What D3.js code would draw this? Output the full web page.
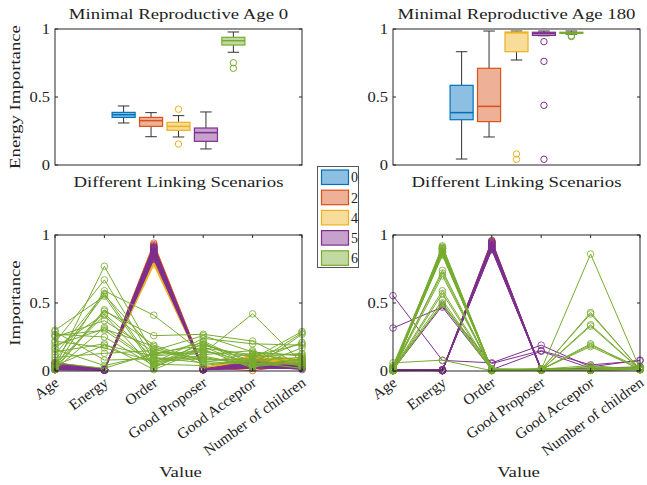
<!DOCTYPE html>
<html><head><meta charset="utf-8">
<script src="https://cdn.jsdelivr.net/npm/d3@7/dist/d3.min.js"></script>
<style>
html,body{margin:0;padding:0;background:#fff;}
text{font-family:"Liberation Serif","Times New Roman",serif;fill:#222;}
</style></head>
<body>
<svg id="c" width="647" height="485"></svg>
<script>
// ---------------- data ----------------
const groups = ["0", "2", "4", "5", "6"];
const colors = ["#0072BD", "#D95319", "#EDB120", "#7E2F8E", "#77AC30"];
const features = ["Age", "Energy", "Order", "Good Proposer", "Good Acceptor", "Number of children"];
const yTicks = [0, 0.5, 1];
const yTickLabels = ["0", "0.5", "1"];
const titles = ["Minimal Reproductive Age 0", "Minimal Reproductive Age 180"];

// box plot summaries (per group) — Minimal Reproductive Age 0
const a0_lo  = [0.309, 0.208, 0.206, 0.118, 0.829];
const a0_q1  = [0.350, 0.284, 0.255, 0.174, 0.882];
const a0_med = [0.370, 0.326, 0.284, 0.238, 0.914];
const a0_q3  = [0.387, 0.350, 0.314, 0.272, 0.939];
const a0_hi  = [0.434, 0.385, 0.363, 0.390, 0.978];
const a0_out = [[], [], [0.410, 0.154], [], [0.752, 0.711]];
// Minimal Reproductive Age 180
const a180_lo  = [0.044, 0.206, 0.772, 0.950, 0.962];
const a180_q1  = [0.333, 0.319, 0.833, 0.953, 0.968];
const a180_med = [0.385, 0.431, 0.972, 0.968, 0.972];
const a180_q3  = [0.586, 0.711, 0.978, 0.976, 0.976];
const a180_hi  = [0.833, 0.985, 0.985, 0.985, 0.985];
const a180_out = [[], [], [0.081, 0.042], [0.907, 0.762, 0.439, 0.042], [0.950, 0.944]];

// parallel coordinates, rows = [Age, Energy, Order, Good Proposer, Good Acceptor, Number of children]
const L_g0 = [
 [0.03,0.010,0.86,0.015,0.05,0.04],[0.05,0.008,0.88,0.020,0.07,0.05],[0.02,0.012,0.85,0.010,0.04,0.03],
 [0.04,0.006,0.87,0.025,0.06,0.06],[0.06,0.010,0.89,0.012,0.08,0.04],[0.03,0.014,0.84,0.018,0.03,0.07],
 [0.02,0.007,0.90,0.022,0.05,0.05],[0.05,0.011,0.86,0.014,0.06,0.03]];
const L_g2 = [
 [0.04,0.010,0.93,0.020,0.10,0.06],[0.02,0.008,0.91,0.015,0.11,0.04],[0.05,0.012,0.90,0.010,0.09,0.07],
 [0.03,0.006,0.92,0.025,0.003,0.05],[0.06,0.010,0.88,0.018,0.08,0.08],[0.01,0.013,0.89,0.012,0.07,0.03],
 [0.04,0.009,0.94,0.022,0.10,0.06],[0.03,0.011,0.87,0.016,0.09,0.05]];
const L_g4 = [
 [0.03,0.010,0.78,0.020,0.10,0.07],[0.05,0.008,0.80,0.015,0.09,0.08],[0.02,0.012,0.79,0.010,0.11,0.06],
 [0.04,0.006,0.82,0.025,0.08,0.09],[0.06,0.010,0.81,0.018,0.10,0.05],[0.02,0.013,0.83,0.012,0.07,0.07],
 [0.05,0.009,0.85,0.022,0.09,0.06],[0.03,0.011,0.80,0.016,0.12,0.08]];
const L_g5 = [
 [0.02,0.008,0.92,0.010,0.04,0.03],[0.03,0.010,0.91,0.012,0.05,0.02],[0.01,0.006,0.90,0.008,0.03,0.04],
 [0.04,0.012,0.89,0.015,0.06,0.03],[0.02,0.009,0.88,0.010,0.02,0.02],[0.05,0.011,0.87,0.013,0.05,0.05],
 [0.03,0.007,0.86,0.009,0.04,0.01],[0.01,0.010,0.85,0.011,0.03,0.03],[0.06,0.013,0.84,0.014,0.07,0.04],
 [0.02,0.008,0.83,0.010,0.02,0.02],[0.03,0.009,0.82,0.012,0.05,0.03],[0.04,0.011,0.90,0.016,0.04,0.05],
 [0.01,0.006,0.88,0.008,0.03,0.02],[0.02,0.010,0.86,0.011,0.06,0.04],[0.05,0.012,0.91,0.013,0.04,0.03],
 [0.03,0.008,0.87,0.010,0.03,0.02]];
const L_g6 = [
 [0.03,0.77,0.12,0.15,0.06,0.05],[0.21,0.67,0.08,0.10,0.04,0.09],[0.02,0.59,0.41,0.13,0.42,0.06],
 [0.12,0.57,0.05,0.20,0.07,0.21],[0.30,0.55,0.03,0.17,0.12,0.08],[0.08,0.56,0.16,0.08,0.09,0.29],
 [0.01,0.44,0.26,0.27,0.22,0.04],[0.17,0.42,0.10,0.06,0.13,0.12],[0.05,0.41,0.02,0.22,0.05,0.28],
 [0.25,0.37,0.14,0.12,0.15,0.03],[0.01,0.32,0.06,0.24,0.20,0.19],[0.19,0.31,0.18,0.05,0.08,0.10],
 [0.27,0.25,0.04,0.18,0.03,0.07],[0.04,0.19,0.11,0.14,0.11,0.20],[0.22,0.17,0.07,0.09,0.06,0.02],
 [0.10,0.13,0.15,0.26,0.14,0.11],[0.29,0.08,0.09,0.11,0.04,0.06],[0.06,0.02,0.13,0.19,0.10,0.13],
 [0.14,0.20,0.01,0.16,0.02,0.27],[0.26,0.30,0.05,0.04,0.08,0.04],[0.02,0.45,0.19,0.07,0.05,0.08],
 [0.16,0.04,0.12,0.21,0.03,0.17]];

const R_g0 = [
 [0.005,0.005,0.92,0.008,0.008,0.012],[0.008,0.004,0.90,0.010,0.006,0.015],[0.003,0.006,0.94,0.007,0.010,0.010],
 [0.006,0.005,0.91,0.009,0.007,0.014]];
const R_g2 = [
 [0.004,0.004,0.96,0.008,0.006,0.012],[0.007,0.006,0.93,0.010,0.009,0.016],[0.005,0.003,0.95,0.006,0.008,0.011],
 [0.009,0.005,0.92,0.009,0.007,0.013]];
const R_g4 = [
 [0.006,0.005,0.95,0.007,0.009,0.014],[0.004,0.004,0.93,0.010,0.006,0.012],[0.008,0.006,0.94,0.008,0.008,0.016],
 [0.005,0.003,0.91,0.009,0.010,0.011]];
const R_g5 = [
 [0.002,0.003,0.95,0.008,0.010,0.015],[0.006,0.005,0.94,0.010,0.006,0.020],[0.010,0.004,0.93,0.012,0.015,0.012],
 [0.004,0.007,0.92,0.006,0.008,0.025],[0.008,0.002,0.91,0.014,0.012,0.018],[0.003,0.006,0.90,0.009,0.020,0.010],
 [0.012,0.004,0.89,0.011,0.007,0.022],[0.005,0.008,0.955,0.007,0.011,0.028],[0.007,0.003,0.935,0.013,0.009,0.016],
 [0.002,0.005,0.925,0.010,0.014,0.013],[0.009,0.006,0.915,0.008,0.005,0.021],[0.004,0.002,0.945,0.015,0.013,0.030],
 [0.006,0.009,0.905,0.012,0.018,0.014],[0.011,0.004,0.895,0.006,0.010,0.019],
 [0.554,0.078,0.060,0.190,0.030,0.080],[0.316,0.470,0.010,0.145,0.020,0.030],[0.010,0.480,0.055,0.150,0.045,0.075]];
const R_g6 = [
 [0.005,0.92,0.010,0.010,0.86,0.015],[0.010,0.91,0.005,0.008,0.43,0.010],[0.002,0.90,0.015,0.012,0.010,0.020],
 [0.015,0.90,0.008,0.006,0.34,0.012],[0.008,0.89,0.012,0.015,0.008,0.025],[0.003,0.88,0.006,0.010,0.20,0.008],
 [0.020,0.88,0.010,0.009,0.012,0.018],[0.006,0.87,0.004,0.011,0.18,0.015],[0.012,0.86,0.014,0.007,0.006,0.022],
 [0.004,0.86,0.009,0.013,0.04,0.010],[0.025,0.85,0.007,0.010,0.010,0.030],[0.009,0.89,0.011,0.008,0.015,0.012],
 [0.001,0.91,0.003,0.014,0.007,0.020],[0.030,0.87,0.013,0.009,0.011,0.016],[0.007,0.74,0.008,0.012,0.42,0.014],
 [0.018,0.72,0.010,0.010,0.009,0.020],[0.004,0.70,0.006,0.008,0.33,0.010],[0.011,0.59,0.012,0.011,0.19,0.025],
 [0.002,0.57,0.005,0.015,0.012,0.018],[0.014,0.52,0.009,0.007,0.03,0.012],[0.006,0.50,0.011,0.012,0.008,0.022],
 [0.020,0.49,0.004,0.010,0.010,0.015],[0.060,0.08,0.002,0.010,0.010,0.010],[0.040,0.90,0.010,0.012,0.005,0.020]];

// ---------------- drawing ----------------
const svg = d3.select("#c");
svg.append("rect").attr("width", 647).attr("height", 485).attr("fill", "#fff");
const STRETCH = 1.25;
const AX = "#262626";
function stretch(sel, f) {
  sel.each(function () {
    const w = this.getComputedTextLength();
    this.setAttribute("textLength", w * f);
    this.setAttribute("lengthAdjust", "spacingAndGlyphs");
  });
}

const panels = {
  tl: {x0: 55, x1: 302, y0: 29, y1: 165},
  tr: {x0: 393, x1: 640, y0: 29, y1: 165},
  bl: {x0: 55, x1: 302, y0: 235, y1: 371},
  br: {x0: 393, x1: 640, y0: 235, y1: 371}
};

function frame(p, xTickPos) {
  const y = d3.scaleLinear().domain([0, 1]).range([p.y1, p.y0]);
  const g = svg.append("g");
  yTicks.forEach((t, i) => {
    g.append("line").attr("x1", p.x0).attr("x2", p.x0 + 3).attr("y1", y(t)).attr("y2", y(t)).attr("stroke", AX);
    g.append("line").attr("x1", p.x1).attr("x2", p.x1 - 3).attr("y1", y(t)).attr("y2", y(t)).attr("stroke", AX);
    const tl = g.append("text").attr("x", p.x0 - 5).attr("y", y(t)).attr("dy", "0.35em")
      .attr("text-anchor", "end").attr("font-size", 15).text(yTickLabels[i]);
    stretch(tl, 1.1);
  });
  (xTickPos || []).forEach(xp => {
    g.append("line").attr("x1", xp).attr("x2", xp).attr("y1", p.y1).attr("y2", p.y1 - 3).attr("stroke", AX);
    g.append("line").attr("x1", xp).attr("x2", xp).attr("y1", p.y0).attr("y2", p.y0 + 3).attr("stroke", AX);
  });
  g.append("rect").attr("x", p.x0).attr("y", p.y0).attr("width", p.x1 - p.x0).attr("height", p.y1 - p.y0)
    .attr("fill", "none").attr("stroke", AX).attr("stroke-width", 1);
  return y;
}

function boxPanel(p, lo, q1, med, q3, hi, out, title) {
  const x = d3.scalePoint().domain(groups).range([p.x0, p.x1]).padding(2.5);
  const y = d3.scaleLinear().domain([0, 1]).range([p.y1, p.y0]);
  const bw = x.step() * 0.84, cw = bw * 0.5;
  const g = svg.append("g");
  groups.forEach((k, i) => {
    const cx = x(k), c = colors[i];
    g.append("line").attr("x1", cx).attr("x2", cx).attr("y1", y(hi[i])).attr("y2", y(q3[i])).attr("stroke", "#333");
    g.append("line").attr("x1", cx).attr("x2", cx).attr("y1", y(q1[i])).attr("y2", y(lo[i])).attr("stroke", "#333");
    g.append("line").attr("x1", cx - cw / 2).attr("x2", cx + cw / 2).attr("y1", y(hi[i])).attr("y2", y(hi[i])).attr("stroke", "#333");
    g.append("line").attr("x1", cx - cw / 2).attr("x2", cx + cw / 2).attr("y1", y(lo[i])).attr("y2", y(lo[i])).attr("stroke", "#333");
    g.append("rect").attr("x", cx - bw / 2).attr("y", y(q3[i])).attr("width", bw)
      .attr("height", Math.max(1, y(q1[i]) - y(q3[i])))
      .attr("fill", c).attr("fill-opacity", 0.45).attr("stroke", c).attr("stroke-width", 1.2);
    g.append("line").attr("x1", cx - bw / 2).attr("x2", cx + bw / 2).attr("y1", y(med[i])).attr("y2", y(med[i]))
      .attr("stroke", c).attr("stroke-width", 1.5);
    out[i].forEach(v => {
      g.append("circle").attr("cx", cx).attr("cy", y(v)).attr("r", 3.2)
        .attr("fill", "none").attr("stroke", c).attr("stroke-width", 1);
    });
  });
  frame(p, []);
  const t = svg.append("text").attr("x", (p.x0 + p.x1) / 2).attr("y", 19).attr("text-anchor", "middle")
    .attr("font-size", 15).text(title);
  stretch(t, STRETCH);
  const xl = svg.append("text").attr("x", (p.x0 + p.x1) / 2).attr("y", 187).attr("text-anchor", "middle")
    .attr("font-size", 15).text("Different Linking Scenarios");
  stretch(xl, STRETCH);
}

function pcPanel(p, data) {
  const x = d3.scalePoint().domain(features).range([p.x0, p.x1]);
  const y = d3.scaleLinear().domain([0, 1]).range([p.y1, p.y0]);
  const g = svg.append("g");
  const line = d3.line().x((d, j) => x(features[j])).y(d => y(d));
  data.forEach((rows, i) => {
    const c = colors[i];
    rows.forEach(r => {
      g.append("path").attr("d", line(r)).attr("fill", "none").attr("stroke", c).attr("stroke-width", 1);
      r.forEach((v, j) => {
        g.append("circle").attr("cx", x(features[j])).attr("cy", y(v)).attr("r", 3.3)
          .attr("fill", "none").attr("stroke", c).attr("stroke-width", 0.8);
      });
    });
  });
  frame(p, features.map(f => x(f)));
  features.forEach(f => {
    const t = svg.append("text").attr("transform", `translate(${x(f) - 1.5},${p.y1 + 5}) rotate(-36)`)
      .attr("text-anchor", "end").attr("dy", "0.72em").attr("font-size", 15).text(f);
    stretch(t, 1.03);
  });
  const v = svg.append("text").attr("x", (p.x0 + p.x1) / 2 + 2).attr("y", 477).attr("text-anchor", "middle")
    .attr("font-size", 15).text("Value");
  stretch(v, STRETCH);
}

boxPanel(panels.tl, a0_lo, a0_q1, a0_med, a0_q3, a0_hi, a0_out, titles[0]);
boxPanel(panels.tr, a180_lo, a180_q1, a180_med, a180_q3, a180_hi, a180_out, titles[1]);
pcPanel(panels.bl, [L_g0, L_g2, L_g4, L_g5, L_g6]);
pcPanel(panels.br, [R_g0, R_g2, R_g4, R_g5, R_g6]);

const yl1 = svg.append("text").attr("transform", "translate(20,97) rotate(-90)").attr("text-anchor", "middle")
  .attr("font-size", 15).text("Energy Importance");
stretch(yl1, STRETCH);
const yl2 = svg.append("text").attr("transform", "translate(20,303) rotate(-90)").attr("text-anchor", "middle")
  .attr("font-size", 15).text("Importance");
stretch(yl2, STRETCH);

// legend
const lg = svg.append("g");
lg.append("rect").attr("x", 317.5).attr("y", 166.5).attr("width", 41).attr("height", 101)
  .attr("fill", "#fff").attr("stroke", "#555").attr("stroke-width", 1);
groups.forEach((k, i) => {
  const yy = 170 + i * 20.2;
  lg.append("rect").attr("x", 321.5).attr("y", yy).attr("width", 27).attr("height", 14.5)
    .attr("fill", colors[i]).attr("fill-opacity", 0.45).attr("stroke", colors[i]).attr("stroke-width", 1.2);
  lg.append("text").attr("x", 351).attr("y", yy + 7.5).attr("dy", "0.35em").attr("font-size", 14).text(k);
});
</script>
</body></html>
